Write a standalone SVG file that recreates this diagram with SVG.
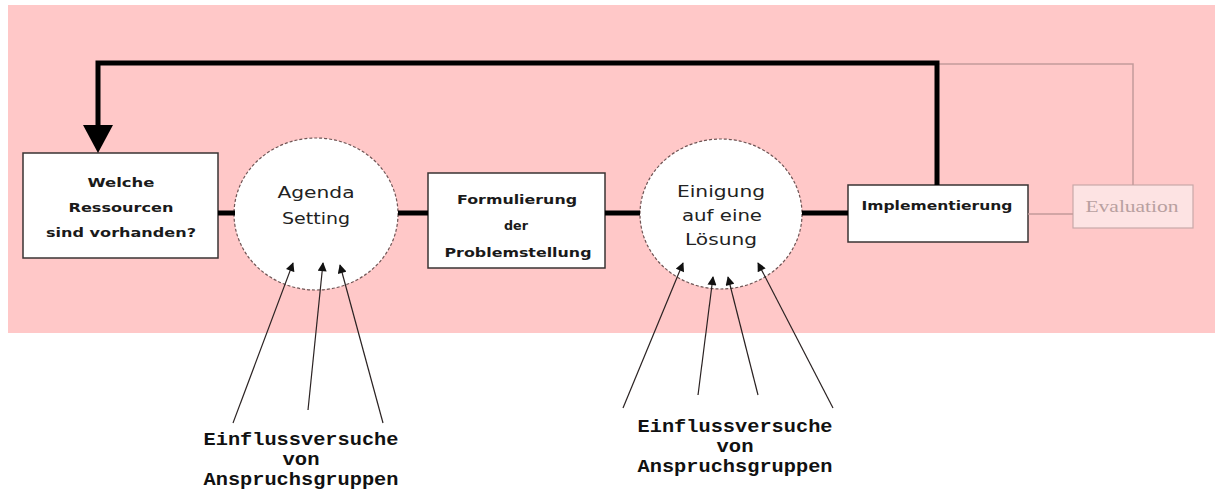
<svg xmlns="http://www.w3.org/2000/svg" width="1215" height="490" viewBox="0 0 1215 490">
<defs>
<style>
.box{fill:#ffffff;stroke:#3a3333;stroke-width:1.5}
.circ{fill:#ffffff;stroke:#6e5555;stroke-width:1.2;stroke-dasharray:3 2}
.thick{stroke:#000;stroke-width:5;fill:none}
.thin{stroke:#c39a9a;stroke-width:1.5;fill:none}
.inf{stroke:#2a2222;stroke-width:1.2;fill:none;marker-end:url(#ah)}
.bt{font-family:"DejaVu Sans","Liberation Sans",sans-serif;font-weight:bold;font-size:13px;fill:#1a1a1a;text-anchor:middle}
.ct{font-family:"DejaVu Sans","Liberation Sans",sans-serif;font-size:16px;fill:#222;text-anchor:middle}
.mt{font-family:"Liberation Mono","DejaVu Sans Mono",monospace;font-weight:bold;font-size:18px;fill:#111;text-anchor:middle}
.et{font-family:"Liberation Serif",serif;font-size:16px;fill:#b8a0a0;text-anchor:middle}
</style>
<marker id="ah" viewBox="0 0 10 10" refX="9" refY="5" markerWidth="10" markerHeight="9" markerUnits="userSpaceOnUse" orient="auto">
<path d="M0,0 L10,5 L0,10 z" fill="#111"/>
</marker>
</defs>
<rect x="0" y="0" width="1215" height="490" fill="#ffffff"/>
<rect x="8" y="5" width="1207" height="328" fill="#ffc8c8"/>

<g id="n-ressourcen">
<rect class="box" x="23" y="153" width="195" height="105"/>
<text class="bt" x="121" y="187" textLength="67" lengthAdjust="spacingAndGlyphs">Welche</text>
<text class="bt" x="121" y="212" textLength="105" lengthAdjust="spacingAndGlyphs">Ressourcen</text>
<text class="bt" x="121" y="237" textLength="150" lengthAdjust="spacingAndGlyphs">sind vorhanden?</text>
</g>

<g id="n-agenda">
<ellipse class="circ" cx="316" cy="214" rx="82" ry="76"/>
<text class="ct" x="316" y="198" textLength="77" lengthAdjust="spacingAndGlyphs">Agenda</text>
<text class="ct" x="316" y="224" textLength="68" lengthAdjust="spacingAndGlyphs">Setting</text>
</g>

<g id="n-formulierung">
<rect class="box" x="428" y="173" width="177" height="95"/>
<text class="bt" x="517" y="204" textLength="120" lengthAdjust="spacingAndGlyphs">Formulierung</text>
<text class="bt" x="516" y="230" textLength="24" lengthAdjust="spacingAndGlyphs">der</text>
<text class="bt" x="518" y="257" textLength="147" lengthAdjust="spacingAndGlyphs">Problemstellung</text>
</g>

<g id="n-einigung">
<ellipse class="circ" cx="721" cy="214" rx="81" ry="75"/>
<text class="ct" x="721" y="197" textLength="88" lengthAdjust="spacingAndGlyphs">Einigung</text>
<text class="ct" x="722" y="221" textLength="80" lengthAdjust="spacingAndGlyphs">auf eine</text>
<text class="ct" x="721" y="245" textLength="72" lengthAdjust="spacingAndGlyphs">Lösung</text>
</g>

<g id="n-implementierung">
<rect class="box" x="848" y="185" width="180" height="57"/>
<text class="bt" x="937" y="210" textLength="151" lengthAdjust="spacingAndGlyphs">Implementierung</text>
</g>

<g id="n-evaluation">
<rect x="1073" y="185" width="120" height="43" fill="#fde3e3" stroke="#c8a8a8" stroke-width="1.2"/>
<text class="et" x="1132" y="212" textLength="93" lengthAdjust="spacingAndGlyphs">Evaluation</text>
</g>

<g id="connectors">
<polyline class="thin" points="937,64 1133,64 1133,185"/>
<line class="thin" x1="1028" y1="214" x2="1073" y2="214"/>
<polyline class="thick" points="937,185 937,63 98,63 98,128"/>
<polygon points="83,125 113,125 98,153" fill="#000"/>
<line class="thick" x1="218" y1="213" x2="235" y2="213"/>
<line class="thick" x1="398" y1="213" x2="428" y2="213"/>
<line class="thick" x1="605" y1="213" x2="640" y2="213"/>
<line class="thick" x1="802" y1="213" x2="848" y2="213"/>
<line class="inf" x1="233" y1="423" x2="293" y2="263"/>
<line class="inf" x1="308" y1="410" x2="323" y2="263"/>
<line class="inf" x1="383" y1="423" x2="340" y2="265"/>
<line class="inf" x1="623" y1="408" x2="683" y2="263"/>
<line class="inf" x1="698" y1="395" x2="713" y2="277"/>
<line class="inf" x1="758" y1="395" x2="728" y2="277"/>
<line class="inf" x1="833" y1="408" x2="758" y2="263"/>
</g>

<g id="t-einfluss-1">
<text class="mt" x="301" y="445" textLength="195" lengthAdjust="spacingAndGlyphs">Einflussversuche</text>
<text class="mt" x="301" y="465" textLength="37" lengthAdjust="spacingAndGlyphs">von</text>
<text class="mt" x="301" y="485" textLength="195" lengthAdjust="spacingAndGlyphs">Anspruchsgruppen</text>
</g>

<g id="t-einfluss-2">
<text class="mt" x="735" y="432" textLength="195" lengthAdjust="spacingAndGlyphs">Einflussversuche</text>
<text class="mt" x="735" y="452" textLength="37" lengthAdjust="spacingAndGlyphs">von</text>
<text class="mt" x="735" y="472" textLength="195" lengthAdjust="spacingAndGlyphs">Anspruchsgruppen</text>
</g>
</svg>
